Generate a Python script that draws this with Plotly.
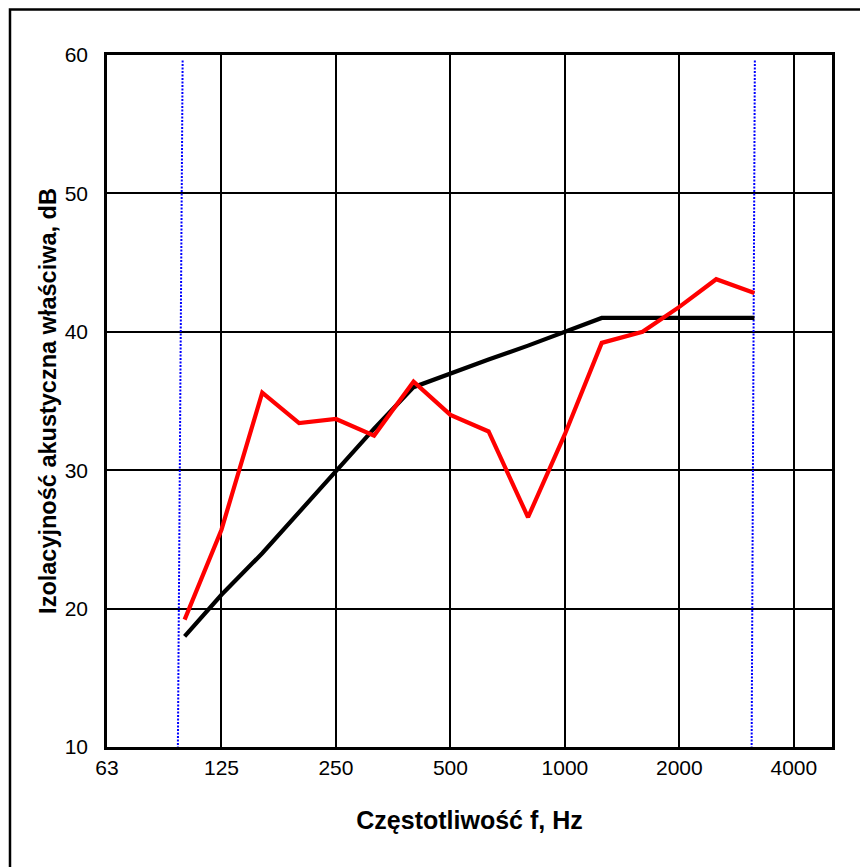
import math
import plotly.graph_objects as go

# Third-octave band centre frequencies, Hz
freq = [100, 125, 160, 200, 250, 315, 400, 500, 630, 800, 1000, 1250, 1600, 2000, 2500, 3150]
# Measured sound reduction index, dB
r_measured = [19.2, 25.7, 35.6, 33.4, 33.7, 32.5, 36.4, 34.0, 32.8, 26.6, 32.6, 39.2, 40.0, 41.8, 43.8, 42.8]
# Shifted reference curve, dB
r_reference = [18, 21, 24, 27, 30, 33, 36, 37, 38, 39, 40, 41, 41, 41, 41, 41]

# Frequency-range marker lines (top / bottom ends)
marker_left_f = [98.8, 96.0]
marker_right_f = [3159, 3098]
marker_y = [59.6, 10]

tick_vals = [62.5, 125, 250, 500, 1000, 2000, 4000]
tick_text = ["63", "125", "250", "500", "1000", "2000", "4000"]
y_ticks = [10, 20, 30, 40, 50, 60]

FONT = "Liberation Sans, Arial, sans-serif"
CLEAR = "rgba(0,0,0,0)"

fig = go.Figure()
for fx in (marker_left_f, marker_right_f):
    fig.add_trace(go.Scatter(x=fx, y=marker_y, mode="lines",
                             line=dict(color="#0000FF", width=2, dash="2px,1.5px"),
                             hoverinfo="skip", showlegend=False))
fig.add_trace(go.Scatter(x=freq, y=r_reference, mode="lines",
                         line=dict(color="black", width=4.2), showlegend=False))
fig.add_trace(go.Scatter(x=freq, y=r_measured, mode="lines",
                         line=dict(color="#FF0000", width=4.2), showlegend=False))

fig.update_xaxes(type="log", range=[math.log10(62.5), math.log10(5040)],
                 tickvals=tick_vals, ticktext=tick_text,
                 showgrid=True, gridcolor="black", gridwidth=2,
                 showline=True, linecolor="black", linewidth=2.5, mirror=True,
                 ticks="", zeroline=False,
                 tickfont=dict(family=FONT, size=21, color="black"),
                 title=dict(text="<b>Częstotliwość f, Hz</b>", standoff=34,
                            font=dict(family=FONT, size=25, color="black")))
fig.update_yaxes(range=[10, 60], tickvals=y_ticks,
                 showgrid=True, gridcolor="black", gridwidth=2,
                 showline=True, linecolor="black", linewidth=2.5, mirror=True,
                 ticks="outside", ticklen=12, tickcolor=CLEAR, zeroline=False,
                 tickfont=dict(family=FONT, size=21, color="black"),
                 title=dict(text="<b>Izolacyjność akustyczna właściwa, dB</b>", standoff=2,
                            font=dict(family=FONT, size=23.5, color="black")))

fig.update_layout(
    width=868, height=867,
    margin=dict(l=99, r=44, t=47, b=128, pad=0),
    plot_bgcolor="white", paper_bgcolor="white",
    shapes=[dict(type="rect", xref="paper", yref="paper",
                 x0=-0.1338, y0=-1.0, x1=2.0, y1=1.0658,
                 line=dict(color="black", width=2.5), layer="below")],
)

fig.write_html("out.html")
